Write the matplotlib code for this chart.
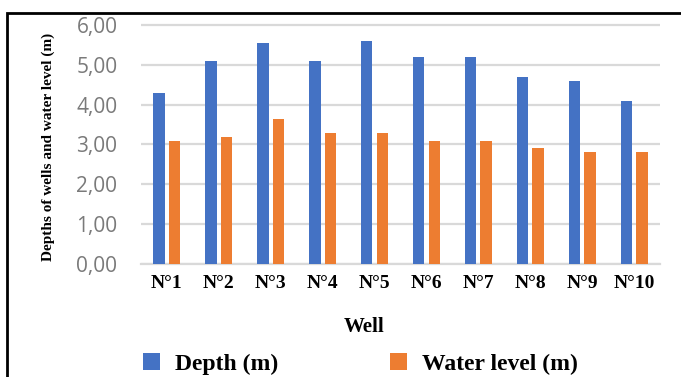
import matplotlib.pyplot as plt
from matplotlib.patches import Rectangle
import numpy as np

# data
wells = ["N°1", "N°2", "N°3", "N°4", "N°5", "N°6", "N°7", "N°8", "N°9", "N°10"]
depth = [4.30, 5.10, 5.55, 5.10, 5.60, 5.20, 5.20, 4.70, 4.60, 4.10]
water_level = [3.10, 3.20, 3.65, 3.30, 3.30, 3.10, 3.10, 2.90, 2.80, 2.80]
yticks = [0, 1, 2, 3, 4, 5, 6]

blue = "#4472C4"
orange = "#ED7D31"
serif = "Liberation Serif"

fig = plt.figure(figsize=(6.81, 3.77), dpi=100)
ax = fig.add_axes([141/681, 1 - 264/377, (660 - 141)/681, (264 - 23)/377])

x = np.arange(len(wells))
w = 0.22
ax.bar(x - 0.15, depth, w, color=blue, label="Depth (m)", zorder=3)
ax.bar(x + 0.15, water_level, w, color=orange, label="Water level (m)", zorder=3)

ax.set_xlim(-0.5, len(wells) - 0.5)
ax.set_ylim(0, 6.05)
ax.set_yticks(yticks)
ax.set_yticklabels([f"{v:.2f}".replace(".", ",") for v in yticks],
                   color="#7a7a7a", fontsize=15, family="Open Sans")
ax.yaxis.grid(True, color="#d9d9d9", linewidth=1.6, zorder=0)
ax.tick_params(axis="y", length=0, pad=17)
ax.set_xticks(x)
ax.set_xticklabels(wells, fontsize=14, fontweight="bold", family=serif)
ax.tick_params(axis="x", length=0, pad=8)
for s in ["top", "right", "left"]:
    ax.spines[s].set_visible(False)
ax.spines["bottom"].set_color("#d9d9d9")
ax.spines["bottom"].set_linewidth(1.6)

# x label, shifted left like the original
fig.text(364/681, 1 - 327/377, "Well", ha="center", va="center",
         fontsize=15, fontweight="bold", family=serif)
fig.text(48/681, 1 - 147/377, "Depths of wells and water level (m)", rotation=90,
         ha="center", va="center", fontsize=11, fontweight="bold", family=serif)

fig.legend(*ax.get_legend_handles_labels(), loc="center left",
           bbox_to_anchor=(143/681, 1 - 364/377), bbox_transform=fig.transFigure,
           ncol=2, frameon=False, borderpad=0, borderaxespad=0,
           prop={"family": serif, "weight": "bold", "size": 17},
           handlelength=0.72, handleheight=0.7, columnspacing=4.7, handletextpad=0.65)

# outer border (left and top only visible)
fig.patches.append(Rectangle((7/681, -0.1), 1.2, 1 - 13/377 + 0.1,
                             transform=fig.transFigure, fill=False,
                             edgecolor="black", linewidth=2))

fig.savefig("out.png", dpi=100)
